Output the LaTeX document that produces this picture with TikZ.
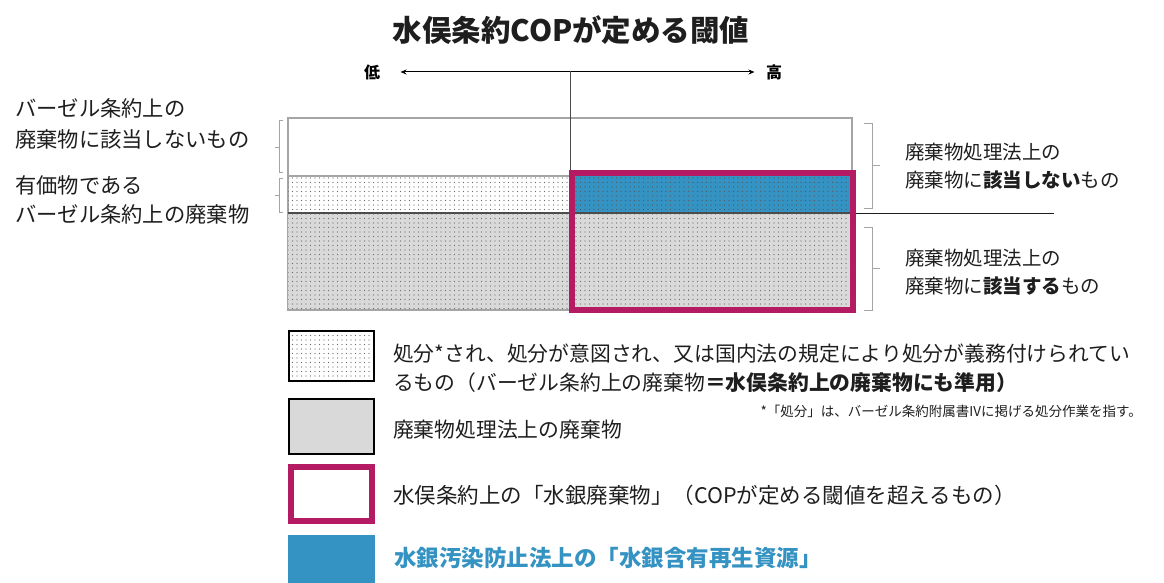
\documentclass[tikz,border=0pt]{standalone}
\usepackage{fontspec}
\setmainfont{Noto Sans CJK JP}
\usetikzlibrary{positioning, arrows.meta, patterns.meta}

\definecolor{hgblue}{RGB}{52,147,194}
\definecolor{hgmagenta}{RGB}{181,27,98}
\definecolor{wastegray}{RGB}{217,217,217}
\definecolor{framegray}{RGB}{165,165,165}
\definecolor{inkgray}{RGB}{30,30,30}

\begin{document}
\begin{tikzpicture}[
    x=1pt, y=-1pt,
    dotted area/.style={
        pattern={Dots[distance=4.5pt, radius=0.7pt]},
        pattern color=black!60
    },
    keybox/.style={
        rectangle,
        draw=black,
        line width=1.8pt,
        minimum width=85pt,
        minimum height=50pt,
        inner sep=0pt
    },
    label/.style={font=\fontsize{20}{29}\selectfont, text=inkgray, align=left, inner sep=0pt},
    brace/.style={framegray, line width=0.8pt},
    arrow/.style={{Stealth[length=6pt, width=5pt]}-{Stealth[length=6pt, width=5pt]}, line width=1pt},
    title/.style={font=\fontsize{29.5}{29.5}\selectfont\bfseries, text=inkgray}
]
\useasboundingbox (0,0) rectangle (1164,583);

% Title
\node[title] (title) at (571,30) {水俣条約COPが定める閾値};

% === Threshold axis ===
\node[font=\fontsize{16}{16}\selectfont\bfseries] (low) at (372,72) {低};
\node[font=\fontsize{16}{16}\selectfont\bfseries] (high) at (774,72) {高};
\draw[arrow, shorten <=17pt, shorten >=8pt] (low) -- (high);
\coordinate (mid) at (570,71);

% === Waste classes ===
\draw[framegray, line width=1.2pt] (288,118) rectangle (852,310);

% Basel waste with value
\fill[dotted area] (288,176) rectangle (572,213);
\draw[framegray, line width=1.2pt] (288,176) -- (572,176);

% Waste Management Act
\fill[wastegray] (288,213) rectangle (852,310);
\fill[dotted area] (288,213) rectangle (852,310);

% Recycled mercury resources
\fill[hgblue] (572,176) rectangle (852,213);
\fill[dotted area, pattern color=black!65] (572,176) rectangle (852,213);

\draw[black!70, line width=1.2pt] (288,213) -- (852,213);
\draw[framegray, line width=1.2pt] (288,310) -- (852,310);
\draw[inkgray, line width=1pt] (852,213) -- (1054,213);

% Mercury waste
\node[rectangle, draw=hgmagenta, line width=6pt, minimum width=280.5pt, minimum height=137.5pt, inner sep=0pt]
    (hgwaste) at (712.25,241.25) {};
\draw[black!70, line width=0.9pt] (mid) -- (mid |- hgwaste.north);

% Left labels
\node[label, anchor=west, font=\fontsize{21.3}{31}\selectfont] (basel-not) at (15,124) {バーゼル条約上の\\廃棄物に該当しないもの};
\node[label, anchor=west, font=\fontsize{21.3}{29}\selectfont] (basel-val) at (15,200) {有価物である\\バーゼル条約上の廃棄物};
\draw[brace] (283,120) -- (279,120) -- (279,172) -- (283,172);
\draw[brace] (279,147) -- (275,147);
\draw[brace] (283,178) -- (279,178) -- (279,212) -- (283,212);
\draw[brace] (279,195) -- (275,195);

% Right labels
\node[label, anchor=west, font=\fontsize{19.5}{28}\selectfont] (wma-not) at (905,166) {廃棄物処理法上の\\廃棄物に\textbf{該当しない}もの};
\node[label, anchor=west, font=\fontsize{19.5}{28}\selectfont] (wma-yes) at (905,272) {廃棄物処理法上の\\廃棄物に\textbf{該当する}もの};
\draw[brace] (864,123) -- (872,123) -- (872,208) -- (864,208);
\draw[brace] (872,165) -- (880,165);
\draw[brace] (864,227) -- (872,227) -- (872,310) -- (864,310);
\draw[brace] (872,268) -- (880,268);

% === Legend ===
\node[keybox, dotted area] (key-basel) at (331.5,356) {};
\node[keybox, fill=wastegray, minimum height=55pt] (key-wma) at (331.5,426.5) {};
\node[keybox, draw=hgmagenta, line width=6pt, minimum width=81pt, minimum height=54pt] (key-hg) at (331.5,494) {};
\node[keybox, draw=none, fill=hgblue, minimum width=87pt, minimum height=54pt] (key-rec) at (331.5,562) {};

\node[label, right=18pt of key-basel.east, anchor=west, yshift=-12.5pt, font=\fontsize{20.8}{28.5}\selectfont] (txt-basel)
    {処分*され、処分が意図され、又は国内法の規定により処分が義務付けられてい\\るもの（バーゼル条約上の廃棄物\textbf{＝水俣条約上の廃棄物にも準用）}};
\node[label, right=18pt of key-wma.east, anchor=west, yshift=-3pt, font=\fontsize{20.8}{29}\selectfont] (txt-wma) {廃棄物処理法上の廃棄物};
\node[label, right=18pt of key-hg.east, anchor=west, yshift=-1pt, font=\fontsize{21.5}{29}\selectfont] (txt-hg) {水俣条約上の「水銀廃棄物」（COPが定める閾値を超えるもの）};
\node[label, right=18pt of key-rec.east, anchor=west, yshift=4pt, text=hgblue, font=\fontsize{22.5}{29}\selectfont\bfseries] (txt-rec) {水銀汚染防止法上の「水銀含有再生資源」};

\node[label, anchor=east, font=\fontsize{13.5}{13.5}\selectfont] (note) at (1142,411) {*「処分」は、バーゼル条約附属書IVに掲げる処分作業を指す。};

\end{tikzpicture}
\end{document}
